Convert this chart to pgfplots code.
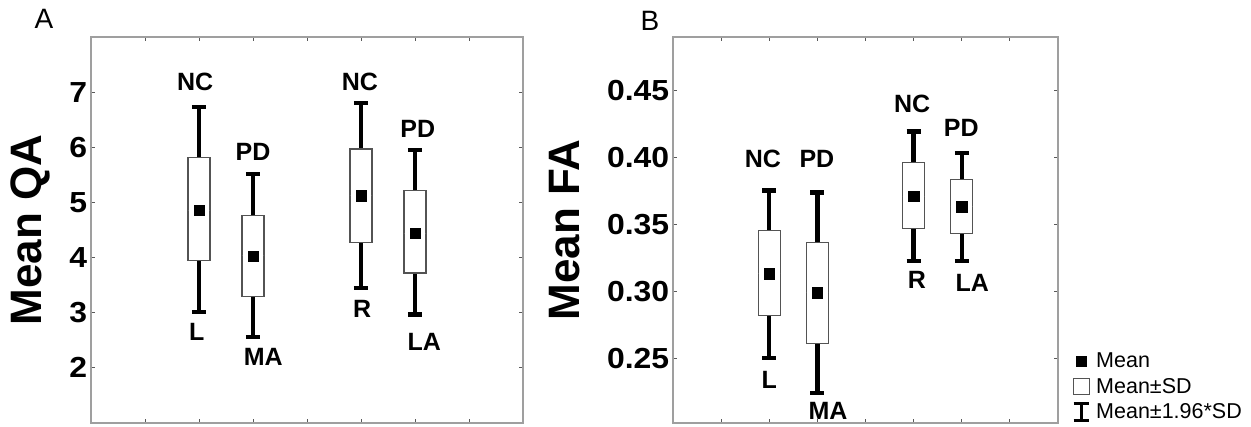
\documentclass[border=0pt]{standalone}
\usepackage{fontspec}
\setmainfont{Liberation Sans}
\usepackage{pgfplots}
\pgfplotsset{compat=1.18}
\usepgfplotslibrary{statistics}

\pgfplotsset{
  panel/.style={
    scale only axis,
    anchor=south west,
    xmin=0, xmax=8,
    xtick={1,...,7}, xticklabels={},
    tick pos=both, tick align=inside,
    major tick length=4pt,
    tick style={gray!70!black, line width=0.9pt},
    axis line style={gray!75, line width=1.3pt},
    /pgf/number format/assume math mode=true,
    yticklabel style={font=\fontsize{29}{29}\selectfont\bfseries, xscale=1.1},
    clip=false,
    boxplot/draw direction=y,
  },
  mybox/.style={
    boxplot prepared={#1},
    draw=gray!70, line width=1.3pt, fill=white,
    boxplot/every median/.style={draw=none},
    boxplot/every whisker/.style={draw=black, line width=4.3pt},
    boxplot/every box/.style={draw=gray!65!black, line width=1.2pt, fill=white},
    forget plot,
  },
}
\tikzset{catlab/.style={font=\fontsize{25}{25}\selectfont\bfseries, inner sep=0pt}}

\begin{document}
\begin{tikzpicture}
\path[use as bounding box] (0pt,0pt) rectangle (1251pt,427pt);

% ---------------- Panel A ----------------
\begin{axis}[panel,
  width=432pt, height=386pt, at={(91pt,4pt)},
  ymin=1, ymax=8, ytick={2,...,7},
  boxplot/box extend=0.41, boxplot/whisker extend=0.26,
]
\addplot+[mybox={draw position=2, lower whisker=3.01, lower quartile=3.95, median=4.86, upper quartile=5.82, upper whisker=6.73}, mark=none] coordinates {};
\addplot+[mybox={draw position=3, lower whisker=2.56, lower quartile=3.30, median=4.03, upper quartile=4.77, upper whisker=5.51}, mark=none] coordinates {};
\addplot+[mybox={draw position=5, lower whisker=3.45, lower quartile=4.27, median=5.12, upper quartile=5.97, upper whisker=6.80}, mark=none] coordinates {};
\addplot+[mybox={draw position=6, lower whisker=2.97, lower quartile=3.72, median=4.44, upper quartile=5.22, upper whisker=5.95}, mark=none] coordinates {};
\addplot[only marks, mark=square*, mark size=5.2pt, black] coordinates {(2,4.86) (3,4.03) (5,5.12) (6,4.44)};
\node[catlab] at (axis cs:1.93,7.18) {NC};
\node[catlab] at (axis cs:1.96,2.65) {L};
\node[catlab] at (axis cs:3.00,5.91) {PD};
\node[catlab] at (axis cs:3.19,2.19) {MA};
\node[catlab] at (axis cs:4.98,7.18) {NC};
\node[catlab] at (axis cs:5.02,3.06) {R};
\node[catlab] at (axis cs:6.05,6.34) {PD};
\node[catlab] at (axis cs:6.17,2.47) {LA};
\end{axis}

% ---------------- Panel B ----------------
\begin{axis}[panel,
  width=385pt, height=386pt, at={(673pt,4pt)},
  ymin=0.202, ymax=0.490, ytick={0.25,0.30,0.35,0.40,0.45},
  yticklabel style={/pgf/number format/.cd, fixed, fixed zerofill, precision=2},
  boxplot/box extend=0.46, boxplot/whisker extend=0.29,
  legend style={at={(rel axis cs:1,0)}, anchor=south west, xshift=14pt, yshift=0.5pt,
    draw=none, fill=none, inner sep=0pt, row sep=5pt, column sep=4pt,
    font=\fontsize{21.5}{21.5}\selectfont,
    cells={anchor=west, inner ysep=1pt, inner xsep=2pt, text height=15pt, text depth=4pt}},
]
\addplot+[mybox={draw position=2, lower whisker=0.2507, lower quartile=0.2820, median=0.3134, upper quartile=0.3455, upper whisker=0.3754}, mark=none] coordinates {};
\addplot+[mybox={draw position=3, lower whisker=0.2246, lower quartile=0.2612, median=0.2993, upper quartile=0.3366, upper whisker=0.3740}, mark=none] coordinates {};
\addplot+[mybox={draw position=5, lower whisker=0.3230, lower quartile=0.3470, median=0.3710, upper quartile=0.3963, upper whisker=0.4194}, mark=none] coordinates {};
\addplot+[mybox={draw position=6, lower whisker=0.3230, lower quartile=0.3433, median=0.3634, upper quartile=0.3836, upper whisker=0.4037}, mark=none] coordinates {};
\addplot[only marks, mark=square*, mark size=5.2pt, black, forget plot] coordinates {(2,0.3134) (3,0.2993) (5,0.3710) (6,0.3634)};
\node[catlab] at (axis cs:1.87,0.3993) {NC};
\node[catlab] at (axis cs:2.99,0.3993) {PD};
\node[catlab] at (axis cs:2.00,0.2343) {L};
\node[catlab] at (axis cs:3.22,0.2110) {MA};
\node[catlab] at (axis cs:4.97,0.4403) {NC};
\node[catlab] at (axis cs:5.99,0.4224) {PD};
\node[catlab] at (axis cs:5.07,0.3090) {R};
\node[catlab] at (axis cs:6.22,0.3067) {LA};
\addlegendimage{legend image code/.code={\fill[black] (3.5pt,-5pt) rectangle (13.5pt,5pt);}}
\addlegendentry{Mean}
\addlegendimage{legend image code/.code={\draw[gray!65!black, line width=1.2pt, fill=white] (0.6pt,-8pt) rectangle (16.4pt,8pt);}}
\addlegendentry{Mean±SD}
\addlegendimage{legend image code/.code={\draw[black, line width=3pt] (8.5pt,-8.5pt) -- (8.5pt,8.5pt) (1pt,-8.5pt) -- (16pt,-8.5pt) (1pt,8.5pt) -- (16pt,8.5pt);}}
\addlegendentry{Mean±1.96*SD}
\end{axis}

% axis titles and panel letters
\node[rotate=90, font=\fontsize{44}{44}\selectfont\bfseries, inner sep=0pt] at (30pt,197pt) {Mean QA};
\node[rotate=90, font=\fontsize{44}{44}\selectfont\bfseries, inner sep=0pt] at (565pt,197pt) {Mean FA};
\node[font=\fontsize{28}{28}\selectfont, inner sep=0pt] at (44pt,408pt) {A};
\node[font=\fontsize{28}{28}\selectfont, inner sep=0pt] at (650pt,406pt) {B};
\end{tikzpicture}
\end{document}
